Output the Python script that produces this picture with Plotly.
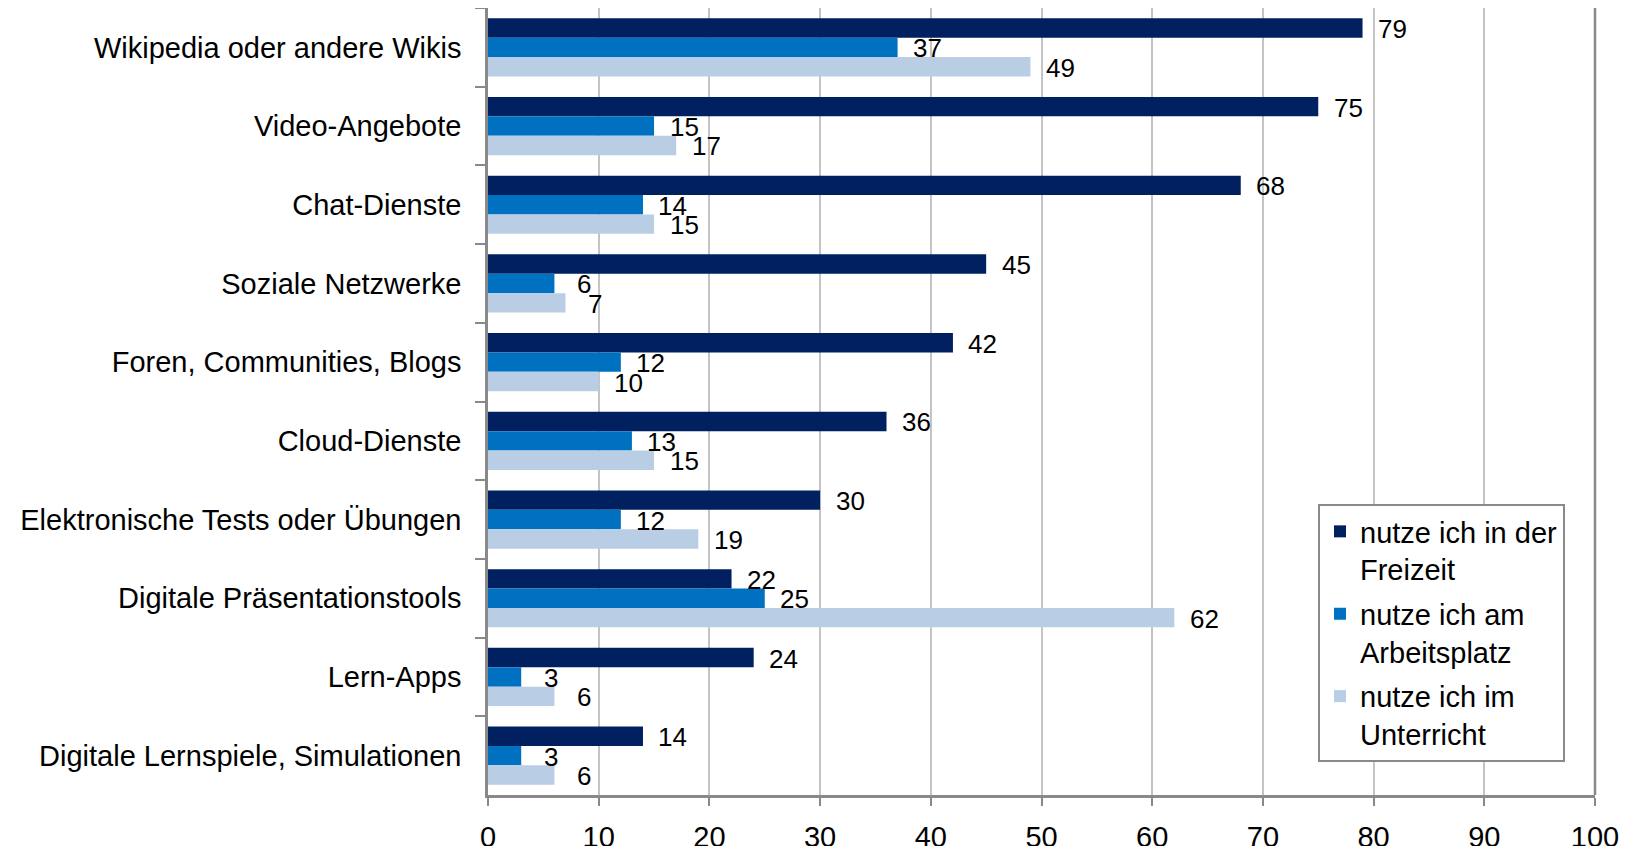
import plotly.graph_objects as go

categories = [
    "Wikipedia oder andere Wikis",
    "Video-Angebote",
    "Chat-Dienste",
    "Soziale Netzwerke",
    "Foren, Communities, Blogs",
    "Cloud-Dienste",
    "Elektronische Tests oder Übungen",
    "Digitale Präsentationstools",
    "Lern-Apps",
    "Digitale Lernspiele, Simulationen",
]
freizeit = [79, 75, 68, 45, 42, 36, 30, 22, 24, 14]
arbeitsplatz = [37, 15, 14, 6, 12, 13, 12, 25, 3, 3]
unterricht = [49, 17, 15, 7, 10, 15, 19, 62, 6, 6]
series_names = [
    "nutze ich in der<br>Freizeit",
    "nutze ich am<br>Arbeitsplatz",
    "nutze ich im<br>Unterricht",
]
x_ticks = [0, 10, 20, 30, 40, 50, 60, 70, 80, 90, 100]

colors = ["#00205F", "#0070C0", "#B9CDE5"]
FONT = "Liberation Sans, Arial, sans-serif"
# page body has an 8px default margin -> compensate
OFF = 8
W, H = 1641 - OFF, 846 - OFF
ML, MR, MT, MB = 488 - OFF, 46, 8 - OFF, 51
BARGAP = 0.26
AXIS_COLOR = "#898989"
GRID_COLOR = "#c4c4c4"

fig = go.Figure()
all_series = [freizeit, arbeitsplatz, unterricht]
for i, (name, vals) in enumerate(zip(series_names, all_series)):
    fig.add_trace(go.Bar(
        y=categories, x=vals, name=name, orientation="h",
        marker=dict(color=colors[i], line=dict(width=0)),
        legendgroup=f"g{i}",
    ))

# data labels
plot_h = H - MT - MB
plot_w = W - ML - MR
slot_px = plot_h / len(categories)
bar_px = slot_px * (1 - BARGAP) / 3
annotations = []
for i, vals in enumerate(all_series):
    yshift = (1 - i) * bar_px - 1
    for cat, v in zip(categories, vals):
        annotations.append(dict(
            x=v, y=cat, xref="x", yref="y", text=str(v), showarrow=False,
            xanchor="center", yanchor="middle", xshift=30, yshift=yshift,
            font=dict(family=FONT, size=26, color="#000000"),
        ))

fig.update_layout(
    width=W, height=H,
    margin=dict(l=ML, r=MR, t=MT, b=MB, pad=0),
    paper_bgcolor="white", plot_bgcolor="white",
    barmode="group", bargap=BARGAP, bargroupgap=0,
    font=dict(family=FONT, size=29, color="#000000"),
    annotations=annotations,
    legend=dict(
        x=(1318 - 488) / plot_w, y=(795 - 504) / plot_h,
        xanchor="left", yanchor="top",
        bgcolor="white", bordercolor=AXIS_COLOR, borderwidth=2,
        font=dict(family=FONT, size=29, color="#000000"),
        valign="top", tracegroupgap=4, traceorder="grouped",
    ),
    shapes=[dict(type="line", xref="paper", yref="paper", x0=1, x1=1, y0=0, y1=1,
                 line=dict(color=AXIS_COLOR, width=2.5), layer="above")],
)
fig.update_xaxes(
    range=[0, 100], tickvals=x_ticks, ticktext=[str(t) for t in x_ticks],
    showgrid=True, gridcolor=GRID_COLOR, gridwidth=2, zeroline=False,
    showline=True, linecolor=AXIS_COLOR, linewidth=2.5,
    ticks="outside", ticklen=8, tickwidth=2, tickcolor=AXIS_COLOR,
    tickfont=dict(family=FONT, size=29), ticklabelstandoff=6,
    automargin=False,
)
fig.update_yaxes(
    type="category", categoryorder="array", categoryarray=categories,
    autorange="reversed", showgrid=False, zeroline=False,
    showline=True, linecolor=AXIS_COLOR, linewidth=2.5,
    ticks="outside", tickson="boundaries", ticklen=10, tickwidth=2, tickcolor=AXIS_COLOR,
    tickfont=dict(family=FONT, size=29), ticklabelstandoff=18,
    automargin=False,
)

fig.write_html("out.html")
